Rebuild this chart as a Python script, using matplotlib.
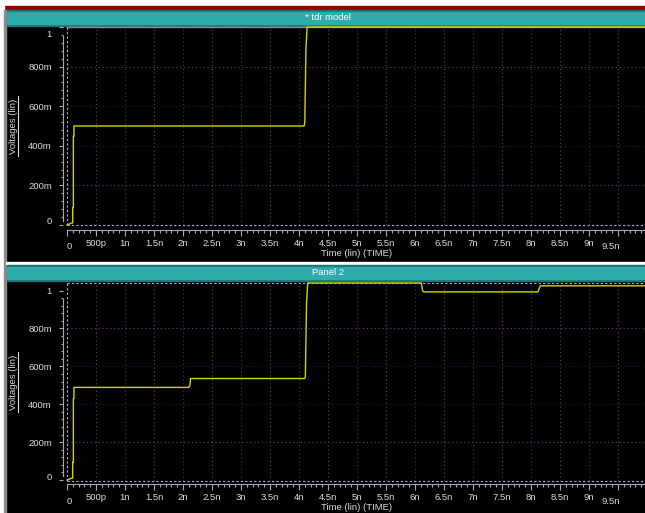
import matplotlib
matplotlib.use('Agg')
import matplotlib.pyplot as plt
from matplotlib.patches import Rectangle
from matplotlib.lines import Line2D

W, H = 645, 513

panel_titles = ['* tdr model', 'Panel 2']
time_ticks = [0.5 * i for i in range(20)]
time_labels = ['0', '500p', '1n', '1.5n', '2n', '2.5n', '3n', '3.5n', '4n', '4.5n',
               '5n', '5.5n', '6n', '6.5n', '7n', '7.5n', '8n', '8.5n', '9n', '9.5n']
volt_ticks = [0, 0.2, 0.4, 0.6, 0.8, 1.0]
volt_labels = ['0', '200m', '400m', '600m', '800m', '1']

# time in ns, voltage in V
t_tdr = [0, 0.08, 0.098, 0.098, 0.11, 0.11, 0.12, 0.12, 4.09, 4.10, 4.12, 4.14, 9.97]
v_tdr = [0, 0.01, 0.01, 0.088, 0.088, 0.448, 0.448, 0.50, 0.50, 0.52, 0.89, 1.0, 1.0]

t_p2 = [0, 0.08, 0.098, 0.098, 0.11, 0.11, 0.12, 0.12, 2.10, 2.12, 2.13, 4.10, 4.11,
        4.13, 4.15, 6.11, 6.13, 6.15, 8.12, 8.14, 8.16, 9.97]
v_p2 = [0, 0.01, 0.01, 0.095, 0.095, 0.43, 0.43, 0.489, 0.489, 0.50, 0.536, 0.536, 0.55,
        0.935, 1.04, 1.04, 1.0, 0.993, 0.993, 1.01, 1.025, 1.025]

plt.rcParams['font.family'] = ['Liberation Sans', 'DejaVu Sans']

TEAL = '#2eabab'
TEAL_DK = '#1c7474'
YEL = '#d4d400'
PURP = '#6e3680'
NAVY = '#1e1e5a'
LAV = '#b8a8d8'
TXT = '#dcdcdc'
TICK = '#a8a8a8'
FS = 6.8

fig = plt.figure(figsize=(W / 100, H / 100), dpi=100, facecolor='black')


def rect(x, y, w, h, color):
    fig.patches.append(Rectangle((x / W, 1 - (y + h) / H), w / W, h / H,
                                 transform=fig.transFigure, color=color, zorder=-1))


def box(x0, y0, x1, y1):
    return [x0 / W, 1 - y1 / H, (x1 - x0) / W, (y1 - y0) / H]


# window chrome
rect(0, 0, W, 6, 'white')
rect(0, 6, W, 4, '#960000')
rect(0, 0, 4, H, 'white')
rect(4, 10, 2, H, '#8c8c8c')
rect(6, 262, W, 2, 'white')

panels = [
    dict(title_y=10, ax=(67, 27, 645, 225), ylim=(0, 1.0), t=t_tdr, v=v_tdr,
         ruler=5, top='solid', xlab_y=243, time_y=254, yl_center=126),
    dict(title_y=265, ax=(67, 283, 645, 481), ylim=(-0.005, 1.040), t=t_p2, v=v_p2,
         ruler=3, top='dashed', xlab_y=497, time_y=508, yl_center=382),
]

for p, title in zip(panels, panel_titles):
    ty = p['title_y']
    rect(7, ty, W - 7, 16, TEAL_DK)
    rect(7, ty + 1.5, W - 7, 12, TEAL)
    fig.text(328 / W, 1 - (ty + 7.5) / H, title, color='white', fontsize=FS,
             ha='center', va='center')

    ax = fig.add_axes(box(*p['ax']))
    ax.set_facecolor('black')
    ax.set_xlim(0, 578 / 58)
    ax.set_ylim(*p['ylim'])

    # grid
    for i, x in enumerate(time_ticks[1:]):
        ax.axvline(x, color=PURP if i % 2 == 0 else '#4a2a6a', lw=0.8,
                   ls=(0, (1, 2.5)), zorder=1)
    for y, c in zip([0.2, 0.4, 0.6, 0.8], [PURP, NAVY, NAVY, PURP]):
        ax.axhline(y, color=c, lw=0.8, ls=(0, (1, 2.5)), zorder=1)

    # frame
    ax.plot([0, 1], [0, 0], transform=ax.transAxes, color=LAV, lw=0.8,
            ls=(0, (2, 2)), clip_on=False, zorder=2)
    ax.plot([0, 0], [0, 1], transform=ax.transAxes, color=LAV, lw=0.8,
            ls=(0, (2, 2)), clip_on=False, zorder=2)
    if p['top'] == 'solid':
        ax.plot([0, 1], [1, 1], transform=ax.transAxes, color='#909090', lw=1.0,
                clip_on=False, zorder=2)
    else:
        ax.plot([0, 1], [1, 1], transform=ax.transAxes, color=LAV, lw=0.8,
                ls=(0, (2, 2)), clip_on=False, zorder=2)

    ax.plot(p['t'], p['v'], color=YEL, lw=1.0, clip_on=False, zorder=3)

    for s in ['top', 'right']:
        ax.spines[s].set_visible(False)
    ax.spines['left'].set_position(('outward', 4 * 0.72))
    ax.spines['bottom'].set_position(('outward', p['ruler'] * 0.72))
    for s in ['left', 'bottom']:
        ax.spines[s].set_color(TICK)
        ax.spines[s].set_linewidth(0.8)
    ax.spines['left'].set_bounds(0.02, 0.955)

    xl = list(time_labels)
    xl[0] = ''
    xl[-1] = ''
    ax.set_xticks(time_ticks, xl)
    ax.set_xticks([0.1 * i for i in range(100)], minor=True)
    yl = list(volt_labels)
    yl[0] = ''
    ax.set_yticks(volt_ticks, yl)
    ax.set_yticks([0.04 * i for i in range(26)], minor=True)
    ax.tick_params(axis='x', which='major', length=4, width=0.8, color=TICK,
                   labelcolor=TXT, labelsize=FS, pad=2.5)
    ax.tick_params(axis='x', which='minor', length=2, width=0.8, color=TICK)
    ax.tick_params(axis='y', which='major', length=3, width=0.8, color=TICK,
                   labelcolor=TXT, labelsize=FS, pad=5)
    ax.tick_params(axis='y', which='minor', length=1.5, width=0.8, color=TICK)

    x0, y0, x1, y1 = p['ax']
    fig.text(69 / W, 1 - (p['xlab_y'] + 4) / H, time_labels[0], color=TXT,
             fontsize=FS, ha='center', va='center')
    fig.text(611 / W, 1 - (p['xlab_y'] + 4) / H, time_labels[-1], color=TXT,
             fontsize=FS, ha='center', va='center')
    fig.text(52 / W, 1 - (y1 - 4) / H, volt_labels[0], color=TXT,
             fontsize=FS, ha='right', va='center')
    fig.text(357 / W, 1 - p['time_y'] / H, 'Time (lin) (TIME)', color=TXT,
             fontsize=FS, ha='center', va='center')
    fig.text(13 / W, 1 - p['yl_center'] / H, 'Voltages (lin)', color=TXT,
             fontsize=FS, ha='center', va='center', rotation=90)
    fig.lines.append(Line2D([17.5 / W, 17.5 / W],
                            [1 - (p['yl_center'] - 30) / H, 1 - (p['yl_center'] + 30) / H],
                            transform=fig.transFigure, color=TXT, lw=0.8))

# "1" on the top panel sits a little below its tick
ax_top = fig.axes[0]
ax_top.set_yticks(volt_ticks, ['', '200m', '400m', '600m', '800m', ''])
fig.text(52 / W, 1 - 35 / H, volt_labels[-1], color=TXT, fontsize=FS,
         ha='right', va='center')

fig.savefig('out.png', dpi=100, facecolor='black')
